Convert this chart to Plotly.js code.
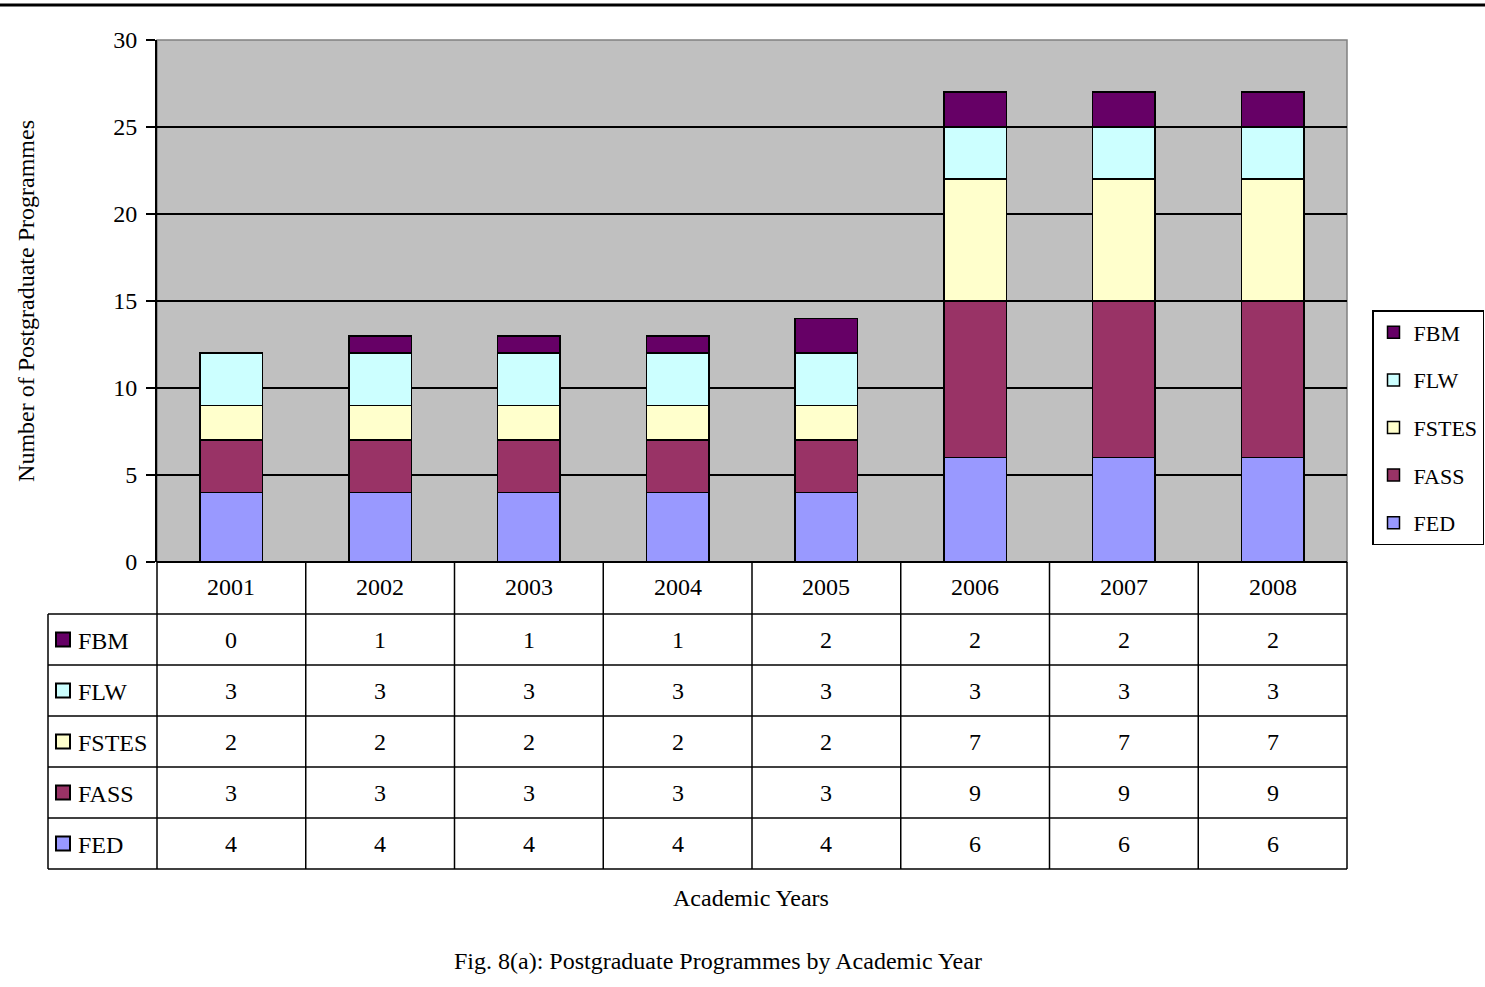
<!DOCTYPE html>
<html>
<head>
<meta charset="utf-8">
<script src="https://cdn.plot.ly/plotly-3.0.1.min.js"></script>
<style>html,body{margin:0;padding:0;background:#fff;overflow:hidden;}#chart{width:1485px;height:987px;}</style>
</head>
<body>
<div id="chart"></div>
<script>
// ---- data ----
const years = ["2001","2002","2003","2004","2005","2006","2007","2008"];
const FED   = [4,4,4,4,4,6,6,6];
const FASS  = [3,3,3,3,3,9,9,9];
const FSTES = [2,2,2,2,2,7,7,7];
const FLW   = [3,3,3,3,3,3,3,3];
const FBM   = [0,1,1,1,2,2,2,2];
const seriesNames = ["FED","FASS","FSTES","FLW","FBM"];
const seriesValues = [FED, FASS, FSTES, FLW, FBM];
const seriesColors = ["#9999FF","#993366","#FFFFCC","#CCFFFF","#660066"];
const yTicks = [0,5,10,15,20,25,30];

// ---- geometry helpers (pixels -> paper) ----
const W = 1485, H = 987;
const L = 157, R = 1347, T = 40, B = 562;
const px = x => (x - L) / (R - L);
const py = y => (B - y) / (B - T);
const FONT = "Liberation Serif, Times New Roman, serif";
const FS = 24;

const traces = seriesNames.map((n, i) => ({
  type: "bar", name: n, x: years, y: seriesValues[i],
  marker: {color: seriesColors[i], line: {color: "#000", width: 1.5}},
  legendgroup: n, legendrank: seriesNames.length - i, hoverinfo: "x+y+name"
}));

// ---- data table ----
const tableTop = 562, headerBottom = 614, tableBottom = 869, tableLeft = 48;
const rowOrder = [4,3,2,1,0]; // FBM, FLW, FSTES, FASS, FED
const rowH = (tableBottom - headerBottom) / rowOrder.length;
const shapes = [];
const annotations = [];
const lineStyle = {color: "#000", width: 1.5};
const txt = {family: FONT, size: FS, color: "#000"};

// top rule of page
shapes.push({type: "line", xref: "paper", yref: "paper", x0: px(0), x1: px(W), y0: py(5), y1: py(5), line: {color: "#000", width: 3}});
// plot area border (gray)
shapes.push({type: "rect", xref: "paper", yref: "paper", x0: 0, x1: 1, y0: 0, y1: 1, line: {color: "#808080", width: 1.5}, layer: "below"});
// horizontal table lines
shapes.push({type: "line", xref: "paper", yref: "paper", x0: 0, x1: 1, y0: py(tableTop), y1: py(tableTop), line: {color: "#000", width: 2}});
for (let k = 0; k <= rowOrder.length; k++) {
  const yy = headerBottom + k * rowH;
  shapes.push({type: "line", xref: "paper", yref: "paper", x0: px(tableLeft), x1: 1, y0: py(yy), y1: py(yy), line: lineStyle});
}
// vertical table lines
shapes.push({type: "line", xref: "paper", yref: "paper", x0: px(tableLeft), x1: px(tableLeft), y0: py(headerBottom), y1: py(tableBottom), line: lineStyle});
for (let c = 0; c <= years.length; c++) {
  const xx = c / years.length;
  shapes.push({type: "line", xref: "paper", yref: "paper", x0: xx, x1: xx, y0: py(tableTop), y1: py(tableBottom), line: lineStyle});
}
// header labels
years.forEach((yr, j) => annotations.push({xref: "x", yref: "paper", x: j, y: py((tableTop + headerBottom) / 2 - 1), xanchor: "center", yanchor: "middle", text: yr, showarrow: false, font: txt}));
// rows
rowOrder.forEach((si, r) => {
  const cy = headerBottom + (r + 0.5) * rowH;
  shapes.push({type: "rect", xref: "paper", yref: "paper", x0: px(56), x1: px(70), y0: py(cy - 7), y1: py(cy + 7), fillcolor: seriesColors[si], line: {color: "#000", width: 2}});
  annotations.push({xref: "paper", yref: "paper", x: px(76), y: py(cy + 1), xanchor: "left", yanchor: "middle", text: seriesNames[si], showarrow: false, font: txt});
  years.forEach((yr, j) => annotations.push({xref: "x", yref: "paper", x: j, y: py(cy), xanchor: "center", yanchor: "middle", text: String(seriesValues[si][j]), showarrow: false, font: txt}));
});
// x title and caption
annotations.push({xref: "paper", yref: "paper", x: px(751), y: py(898), xanchor: "center", yanchor: "middle", text: "Academic Years", showarrow: false, font: txt});
annotations.push({xref: "paper", yref: "paper", x: px(718), y: py(961), xanchor: "center", yanchor: "middle", text: "Fig. 8(a): Postgraduate Programmes by Academic Year", showarrow: false, font: txt});

const layout = {
  width: W, height: H,
  margin: {l: L, r: W - R, t: T, b: H - B, autoexpand: false},
  paper_bgcolor: "#fff", plot_bgcolor: "#C0C0C0",
  barmode: "stack", bargap: 0.58,
  font: txt,
  xaxis: {type: "category", range: [-0.5, years.length - 0.5], showticklabels: false, ticks: "", showgrid: false, zeroline: false, showline: false, fixedrange: true},
  yaxis: {range: [0, 30], tickvals: yTicks, ticks: "outside", ticklen: 9, tickwidth: 1.5, tickcolor: "#000",
          showline: true, linecolor: "#000", linewidth: 2, gridcolor: "#000", gridwidth: 1.5, zeroline: false,
          tickfont: txt, ticklabelstandoff: 4,
          title: {text: "Number of Postgraduate Programmes", font: txt, standoff: 72}},
  showlegend: true,
  legend: {x: px(1372), y: py(310), xanchor: "left", yanchor: "top", traceorder: "grouped", tracegroupgap: 16,
           bordercolor: "#000", borderwidth: 1.5, bgcolor: "#fff", font: {family: FONT, size: 22, color: "#000"}, itemwidth: 30},
  shapes: shapes, annotations: annotations
};

Plotly.newPlot("chart", traces, layout, {displayModeBar: false, staticPlot: true});
</script>
</body>
</html>
